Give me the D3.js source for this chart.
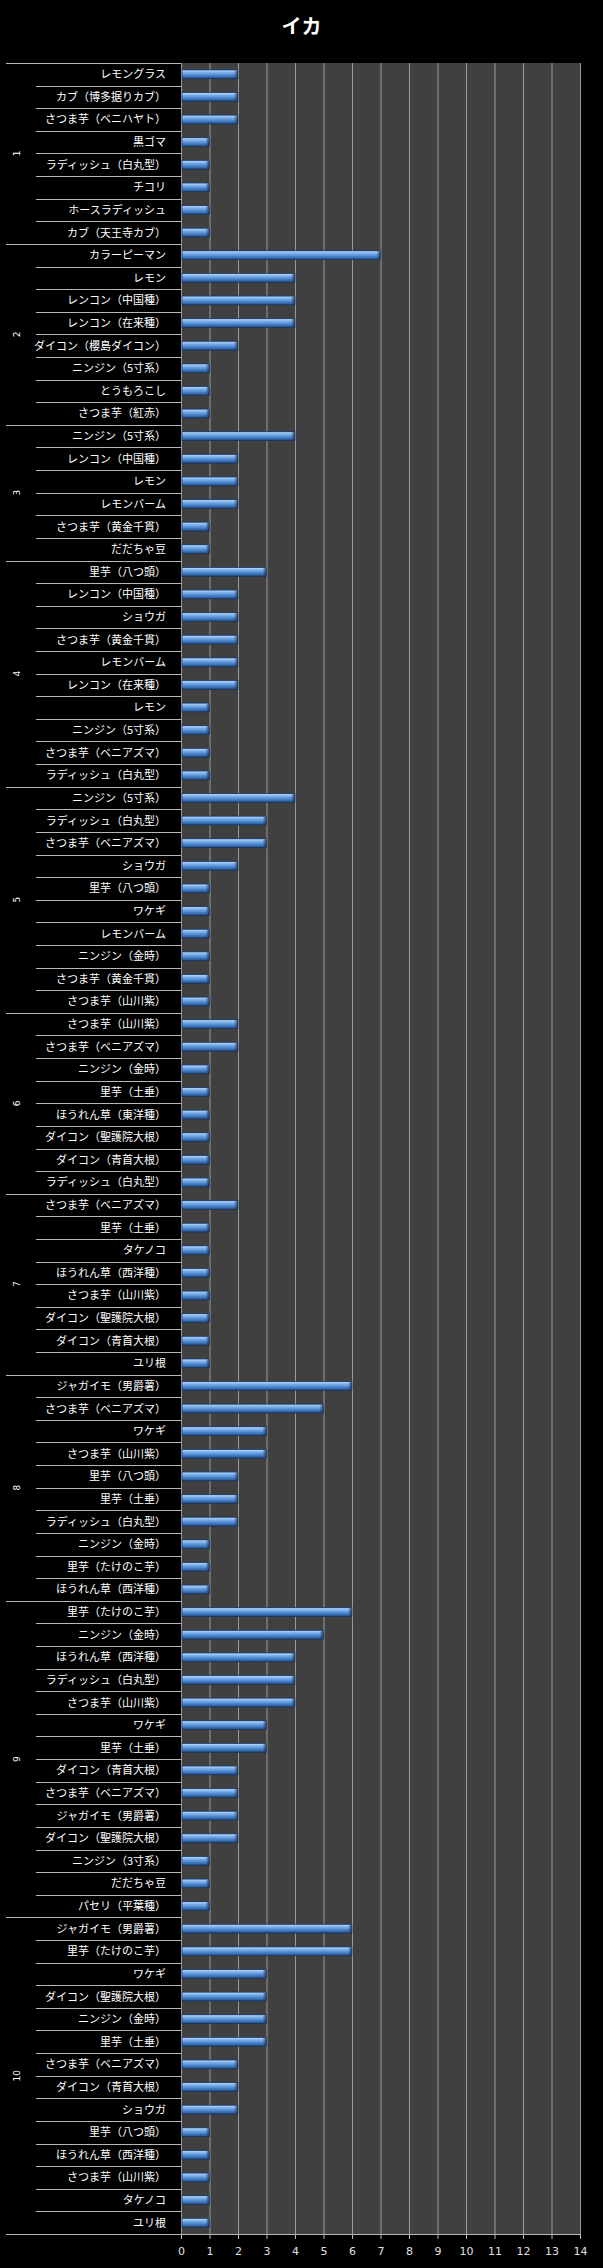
<!DOCTYPE html>
<html><head><meta charset="utf-8">
<script src="https://cdn.jsdelivr.net/npm/d3@7"></script>
<style>
html,body{margin:0;padding:0;background:#000;}
svg{display:block;}
</style></head>
<body>
<script>
const title = "イカ";
const groups = ["1","2","3","4","5","6","7","8","9","10"];
const groupSizes = [8,8,6,10,10,8,8,10,14,14];
const categories = [
 // 1
 "レモングラス","カブ（博多据りカブ）","さつま芋（ベニハヤト）","黒ゴマ","ラディッシュ（白丸型）","チコリ","ホースラディッシュ","カブ（天王寺カブ）",
 // 2
 "カラーピーマン","レモン","レンコン（中国種）","レンコン（在来種）","ダイコン（櫻島ダイコン）","ニンジン（5寸系）","とうもろこし","さつま芋（紅赤）",
 // 3
 "ニンジン（5寸系）","レンコン（中国種）","レモン","レモンバーム","さつま芋（黄金千貫）","だだちゃ豆",
 // 4
 "里芋（八つ頭）","レンコン（中国種）","ショウガ","さつま芋（黄金千貫）","レモンバーム","レンコン（在来種）","レモン","ニンジン（5寸系）","さつま芋（ベニアズマ）","ラディッシュ（白丸型）",
 // 5
 "ニンジン（5寸系）","ラディッシュ（白丸型）","さつま芋（ベニアズマ）","ショウガ","里芋（八つ頭）","ワケギ","レモンバーム","ニンジン（金時）","さつま芋（黄金千貫）","さつま芋（山川紫）",
 // 6
 "さつま芋（山川紫）","さつま芋（ベニアズマ）","ニンジン（金時）","里芋（土垂）","ほうれん草（東洋種）","ダイコン（聖護院大根）","ダイコン（青首大根）","ラディッシュ（白丸型）",
 // 7
 "さつま芋（ベニアズマ）","里芋（土垂）","タケノコ","ほうれん草（西洋種）","さつま芋（山川紫）","ダイコン（聖護院大根）","ダイコン（青首大根）","ユリ根",
 // 8
 "ジャガイモ（男爵薯）","さつま芋（ベニアズマ）","ワケギ","さつま芋（山川紫）","里芋（八つ頭）","里芋（土垂）","ラディッシュ（白丸型）","ニンジン（金時）","里芋（たけのこ芋）","ほうれん草（西洋種）",
 // 9
 "里芋（たけのこ芋）","ニンジン（金時）","ほうれん草（西洋種）","ラディッシュ（白丸型）","さつま芋（山川紫）","ワケギ","里芋（土垂）","ダイコン（青首大根）","さつま芋（ベニアズマ）","ジャガイモ（男爵薯）","ダイコン（聖護院大根）","ニンジン（3寸系）","だだちゃ豆","パセリ（平葉種）",
 // 10
 "ジャガイモ（男爵薯）","里芋（たけのこ芋）","ワケギ","ダイコン（聖護院大根）","ニンジン（金時）","里芋（土垂）","さつま芋（ベニアズマ）","ダイコン（青首大根）","ショウガ","里芋（八つ頭）","ほうれん草（西洋種）","さつま芋（山川紫）","タケノコ","ユリ根"
];
const values = [
 2,2,2,1,1,1,1,1,
 7,4,4,4,2,1,1,1,
 4,2,2,2,1,1,
 3,2,2,2,2,2,1,1,1,1,
 4,3,3,2,1,1,1,1,1,1,
 2,2,1,1,1,1,1,1,
 2,1,1,1,1,1,1,1,
 6,5,3,3,2,2,2,1,1,1,
 6,5,4,4,4,3,3,2,2,2,2,1,1,1,
 6,6,3,3,3,3,2,2,2,1,1,1,1,1
];
const xTicks = d3.range(0, 15);

const W = 603, H = 2268;
const m = {left:181, right:23, top:63, bottom:34};
const svg = d3.select("body").append("svg").attr("width", W).attr("height", H);

const defs = svg.append("defs");
const grad = defs.append("linearGradient").attr("id","barGrad").attr("x1",0).attr("y1",0).attr("x2",0).attr("y2",1);
[[0,"#3a6eae"],[0.12,"#a9cdf4"],[0.3,"#7eb0ea"],[0.6,"#4d88d0"],[0.85,"#2f62a3"],[1,"#1a355e"]]
 .forEach(([o,c])=>grad.append("stop").attr("offset",o).attr("stop-color",c));
const capGrad = defs.append("linearGradient").attr("id","capGrad").attr("x1",0).attr("y1",0).attr("x2",1).attr("y2",0);
capGrad.append("stop").attr("offset",0).attr("stop-color","#1a355e").attr("stop-opacity",0);
capGrad.append("stop").attr("offset",1).attr("stop-color","#1a355e").attr("stop-opacity",0.9);

const n = categories.length;
const x = d3.scaleLinear().domain([0,14]).range([m.left, W - m.right]);
const y = d3.scaleBand().domain(d3.range(n)).range([m.top, H - m.bottom]).paddingInner(0.6).paddingOuter(0.3);
const step = y.step();
const rowTop = i => y(i) - y.paddingInner()*step/2;

// title
svg.append("text").attr("x", W/2).attr("y", 34).attr("text-anchor","middle")
  .attr("fill","#fff").attr("font-family","'Noto Sans CJK JP', sans-serif")
  .attr("font-weight","bold").attr("font-size",20).text(title);

// plot background
svg.append("rect").attr("x", x(0)).attr("y", m.top).attr("width", x(14)-x(0)).attr("height", H-m.bottom-m.top)
  .attr("fill","#404040");

// gridlines
svg.append("g").selectAll("line").data(xTicks).join("line")
  .attr("x1", d=>x(d)+0.5).attr("x2", d=>x(d)+0.5)
  .attr("y1", m.top).attr("y2", H-m.bottom)
  .attr("stroke","#9a9a9a").attr("stroke-width",1);

// group boundaries
const groupStarts = [];
let acc = 0;
groupSizes.forEach(s=>{ groupStarts.push(acc); acc += s; });
const isGroupStart = new Set(groupStarts.concat([n]));

// separators
svg.append("g").selectAll("line").data(d3.range(n+1)).join("line")
  .attr("x1", i => isGroupStart.has(i) ? 6 : 36)
  .attr("x2", x(0))
  .attr("y1", i => Math.round(i < n ? rowTop(i) : (H - m.bottom)) + 0.5)
  .attr("y2", i => Math.round(i < n ? rowTop(i) : (H - m.bottom)) + 0.5)
  .attr("stroke","#b8b8b8").attr("stroke-width",1);

// category labels
svg.append("g").selectAll("text").data(categories).join("text")
  .attr("x", 166).attr("y", (d,i)=> y(i) + y.bandwidth()/2)
  .attr("dy","0.36em").attr("text-anchor","end")
  .attr("fill","#fff").attr("font-family","'Noto Sans CJK JP', sans-serif")
  .attr("font-size",11).text(d=>d);

// group labels
svg.append("g").selectAll("text").data(groups).join("text")
  .attr("transform",(d,i)=>{
    const s = groupStarts[i], e = s + groupSizes[i];
    const cy = (rowTop(s) + (e < n ? rowTop(e) : H - m.bottom))/2;
    return `translate(17,${cy}) rotate(-90)`;
  })
  .attr("text-anchor","middle").attr("dy","0.35em")
  .attr("fill","#fff").attr("font-family","'DejaVu Sans', sans-serif")
  .attr("font-size",9).text(d=>d);

// bars
const bars = svg.append("g").selectAll("g").data(values).join("g");
bars.append("rect")
  .attr("x", x(0)+1).attr("y", (d,i)=>y(i))
  .attr("width", d=>x(d)-x(0)-1).attr("height", y.bandwidth())
  .attr("fill","url(#barGrad)").attr("stroke","#1a355e").attr("stroke-width",0.6);
bars.append("rect")
  .attr("x", d=>x(d)-4).attr("y", (d,i)=>y(i)+0.5)
  .attr("width", 4).attr("height", y.bandwidth()-1)
  .attr("fill","url(#capGrad)");

// x axis
const axis = svg.append("g").attr("transform",`translate(0,${H-m.bottom})`)
  .call(d3.axisBottom(x).tickValues(xTicks).tickSize(5).tickPadding(8).tickFormat(d3.format("d")));
axis.select(".domain").attr("stroke","#b8b8b8");
axis.selectAll(".tick line").attr("stroke","#b8b8b8");
axis.selectAll(".tick text").attr("fill","#e0e0e0").attr("font-size",11)
  .attr("font-family","'DejaVu Sans', sans-serif");
</script>
</body></html>
